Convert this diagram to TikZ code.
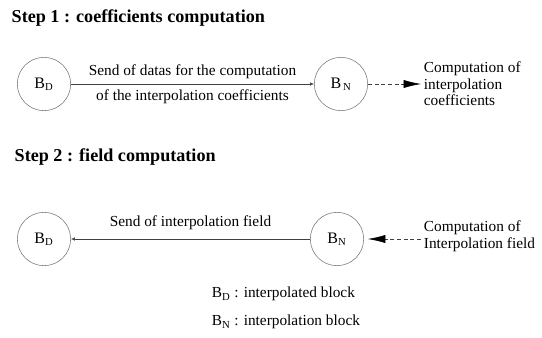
\documentclass[tikz,border=0pt]{standalone}
\usepackage{fontspec}
\setmainfont{LiberationSerif}[Extension=.ttf, UprightFont=*-Regular, BoldFont=*-Bold, ItalicFont=*-Italic, BoldItalicFont=*-BoldItalic]
\usetikzlibrary{arrows.meta,positioning}

\tikzset{
  block/.style={draw=black!55, circle, minimum size=40pt, inner sep=0pt, font=\fontsize{12}{14}\selectfont},
  msg/.style={draw=black!75, -{Latex[length=3pt,width=2.5pt]}},
  calc/.style={draw=black!75, densely dashed, -{Latex[length=13pt,width=6pt,black]}},
  steptitle/.style={font=\bfseries\fontsize{13.6}{15}\selectfont, anchor=west},
  note/.style={align=left, font=\fontsize{11.5}{12.5}\selectfont, anchor=west, inner sep=2pt}
}

\begin{document}
\begin{tikzpicture}[x=0.75pt,y=-0.75pt]
  \useasboundingbox (0,0) rectangle (542,338);

  % step 1
  \node[steptitle] (title1) at (7,18) {Step 1 : coefficients computation};
  \node[block] (bd1) at (44,84) {B\textsubscript{D}};
  \node[block] (bn1) at (341,84) {B\textsubscript{\,N}};
  \draw[msg] (bd1) -- node[note, anchor=south, above=2pt] {Send of datas for the computation}
                      node[note, anchor=north, below=2pt] {of the interpolation coefficients} (bn1);
  \node[note] (comp1) at (421,84) {Computation of\\interpolation\\coefficients};
  \draw[calc] (bn1) -- (comp1.west |- bn1);

  % step 2
  \node[steptitle] (title2) at (10,157) {Step 2 : field computation};
  \node[block] (bd2) at (44,239) {B\textsubscript{D}};
  \node[block] (bn2) at (337,239) {B\textsubscript{N}};
  \draw[msg] (bn2) -- node[note, above=5pt] {Send of interpolation field} (bd2);
  \node[note] (comp2) at (421,236) {Computation of\\Interpolation field};
  \draw[calc, shorten >=3pt] (comp2.west |- bn2) -- (bn2);

  % key
  \node[note] (key1) at (209,294) {B\textsubscript{D} : interpolated block};
  \node[note] (key2) at (209,322) {B\textsubscript{N} : interpolation block};
\end{tikzpicture}
\end{document}
